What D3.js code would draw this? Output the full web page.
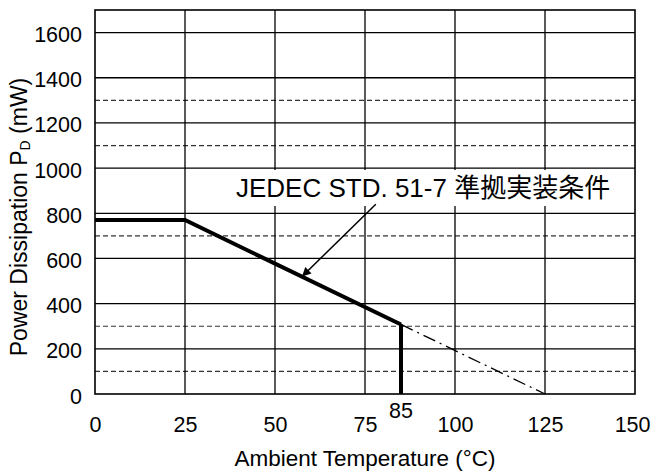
<!DOCTYPE html>
<html>
<head>
<meta charset="utf-8">
<script src="https://cdn.jsdelivr.net/npm/d3@7"></script>
<style>
  html, body { margin: 0; padding: 0; background: #fff; }
  svg { display: block; font-family: "Liberation Sans", Arial, "Noto Sans CJK JP", sans-serif; }
</style>
</head>
<body>
<svg id="chart" width="651" height="475"></svg>
<script>
// ---- data ----
const xTicks = [0, 25, 50, 75, 100, 125, 150];
const yTicks = [0, 200, 400, 600, 800, 1000, 1200, 1400, 1600];
const yDashed = [100, 300, 700, 1100, 1300];
const deratingTemp = [0, 25, 85];
const deratingPower = [770, 770, 308];
const extensionTemp = [85, 125];
const extensionPower = [308, 0];
const cutoffTemp = [85, 85];
const cutoffPower = [308, 0];
const markerLabel = "85";
const annotationText = "JEDEC STD. 51-7 準拠実装条件";
const arrowFrom = [78, 840];
const arrowTo = [57.5, 520];
const xTitle = "Ambient Temperature (°C)";

// ---- layout ----
const svg = d3.select("#chart");
const x = d3.scaleLinear().domain([0, 150]).range([95, 635]);
const y = d3.scaleLinear().domain([0, 1700]).range([394, 10]);

svg.append("defs").append("marker")
  .attr("id", "arrow").attr("viewBox", "0 0 10 10")
  .attr("refX", 10).attr("refY", 5)
  .attr("markerWidth", 13).attr("markerHeight", 9)
  .attr("markerUnits", "userSpaceOnUse")
  .attr("orient", "auto")
  .append("path").attr("d", "M0,0 L10,5 L0,10 z").attr("fill", "#000");

const grid = svg.append("g");
grid.selectAll("line.dash").data(yDashed).join("line")
  .attr("x1", x(0)).attr("x2", x(150))
  .attr("y1", d => y(d)).attr("y2", d => y(d))
  .attr("stroke", "#333").attr("stroke-width", 1.2)
  .attr("stroke-dasharray", "5,3");
grid.selectAll("line.h").data(yTicks.filter(d => d > 0)).join("line")
  .attr("x1", x(0)).attr("x2", x(150))
  .attr("y1", d => y(d)).attr("y2", d => y(d))
  .attr("stroke", "#000").attr("stroke-width", 1.3);
grid.selectAll("line.v").data(xTicks.filter(d => d > 0 && d < 150)).join("line")
  .attr("x1", d => x(d)).attr("x2", d => x(d))
  .attr("y1", y(0)).attr("y2", y(1700))
  .attr("stroke", "#000").attr("stroke-width", 1.3);
svg.append("rect")
  .attr("x", x(0)).attr("y", y(1700))
  .attr("width", x(150) - x(0)).attr("height", y(0) - y(1700))
  .attr("fill", "none").attr("stroke", "#000").attr("stroke-width", 1.6);

// axes (labels only)
const xAxis = svg.append("g").attr("transform", `translate(0,${y(0)})`)
  .call(d3.axisBottom(x).tickValues(xTicks).tickFormat(d3.format("d")).tickSize(0));
xAxis.select(".domain").remove();
xAxis.selectAll("text").attr("font-size", 21.5).attr("font-family", "Liberation Sans, Arial, sans-serif")
  .attr("fill", "#000").attr("dy", "0.35em").attr("y", 30);
xAxis.selectAll(".tick").filter(d => d === 150).select("text").attr("text-anchor", "end").attr("dx", 15);

const yAxis = svg.append("g").attr("transform", `translate(${x(0)},0)`)
  .call(d3.axisLeft(y).tickValues(yTicks).tickFormat(d3.format("d")).tickSize(0).tickPadding(13));
yAxis.select(".domain").remove();
yAxis.selectAll("text").attr("font-size", 21.5).attr("font-family", "Liberation Sans, Arial, sans-serif")
  .attr("fill", "#000").attr("dy", "0.42em");

// extension (dash-dot)
const line = d3.line().x(d => x(d[0])).y(d => y(d[1]));
svg.append("path")
  .attr("d", line(d3.zip(extensionTemp, extensionPower)))
  .attr("fill", "none").attr("stroke", "#000").attr("stroke-width", 1.3)
  .attr("stroke-dasharray", "13,5,2,5");
svg.append("path")
  .attr("d", line(d3.zip(deratingTemp, deratingPower)))
  .attr("fill", "none").attr("stroke", "#000").attr("stroke-width", 4)
  .attr("stroke-linejoin", "miter");
svg.append("path")
  .attr("d", line(d3.zip(cutoffTemp, cutoffPower)))
  .attr("fill", "none").attr("stroke", "#000").attr("stroke-width", 4);

// 85 label
svg.append("text").attr("x", x(85)).attr("y", 410).attr("dy", "0.35em")
  .attr("text-anchor", "middle").attr("font-size", 21.5).text(markerLabel);

// annotation
svg.append("rect").attr("x", 230).attr("y", 170).attr("width", 392).attr("height", 36).attr("fill", "#fff");
svg.append("text").attr("x", 236).attr("y", 197)
  .attr("font-size", 26).attr("fill", "#000")
  .attr("font-family", "Liberation Sans, Arial, 'Noto Sans CJK JP', sans-serif")
  .text(annotationText);
svg.append("line")
  .attr("x1", x(arrowFrom[0])).attr("y1", y(arrowFrom[1]))
  .attr("x2", x(arrowTo[0])).attr("y2", y(arrowTo[1]))
  .attr("stroke", "#000").attr("stroke-width", 1.5)
  .attr("marker-end", "url(#arrow)");

// axis titles
svg.append("text").attr("x", (x(0) + x(150)) / 2).attr("y", 466)
  .attr("text-anchor", "middle").attr("font-size", 22.5).text(xTitle);
const yt = svg.append("text")
  .attr("transform", `translate(27,${217}) rotate(-90)`)
  .attr("text-anchor", "middle").attr("font-size", 23);
yt.append("tspan").text("Power Dissipation P");
yt.append("tspan").attr("font-size", 14).attr("dy", 3).text("D");
yt.append("tspan").attr("dy", -3).text(" (mW)");
</script>
</body>
</html>
